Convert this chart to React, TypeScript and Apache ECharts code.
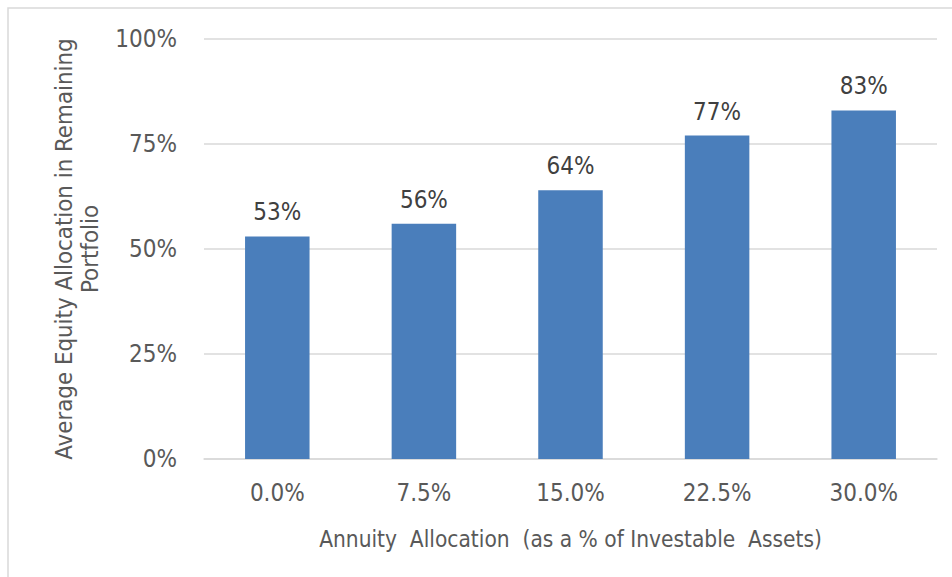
import React, { useEffect, useRef } from "react";
import * as echarts from "echarts";

const categories = ["0.0%", "7.5%", "15.0%", "22.5%", "30.0%"];
const values = [53, 56, 64, 77, 83];
const yTicks = [0, 25, 50, 75, 100];
const xTitle = "Annuity  Allocation  (as a % of Investable  Assets)";
const yTitle = "Average Equity Allocation in Remaining\nPortfolio";

const FONT = "'Liberation Sans Narrow', 'DejaVu Sans Condensed', Arial, sans-serif";
const TEXT = "#595959";

export default function App() {
  const ref = useRef<HTMLDivElement>(null);
  useEffect(() => {
    document.body.style.margin = "0";
    const chart = echarts.init(ref.current!, null, { renderer: "svg" });
    chart.setOption({
      animation: false,
      backgroundColor: "#ffffff",
      textStyle: { fontFamily: FONT },
      grid: { left: 204, right: 15, top: 39, bottom: 118, containLabel: false },
      graphic: [
        {
          type: "rect",
          shape: { x: 8, y: 8, width: 1000, height: 700 },
          style: { fill: "none", stroke: "#d9d9d9", lineWidth: 1.5 },
          silent: true,
        },
      ],
      xAxis: {
        type: "category",
        data: categories,
        name: xTitle,
        nameLocation: "middle",
        nameGap: 68,
        nameTextStyle: { fontFamily: FONT, fontSize: 22.5, color: TEXT },
        axisLine: { lineStyle: { color: "#d9d9d9", width: 1.5 } },
        axisTick: { show: false },
        axisLabel: { fontFamily: FONT, fontSize: 24, color: TEXT, margin: 22 },
      },
      yAxis: {
        type: "value",
        min: 0,
        max: 100,
        interval: 25,
        name: yTitle,
        nameLocation: "middle",
        nameGap: 101,
        nameRotate: 90,
        nameTextStyle: { fontFamily: FONT, fontSize: 23.8, color: TEXT, lineHeight: 26, align: "center" },
        axisLine: { show: false },
        axisTick: { show: false },
        splitLine: { lineStyle: { color: "#d9d9d9", width: 1.5 } },
        axisLabel: {
          fontFamily: FONT,
          fontSize: 24,
          color: TEXT,
          margin: 27,
          formatter: (v: number) => (yTicks.includes(v) ? v + "%" : ""),
        },
      },
      series: [
        {
          type: "bar",
          data: values,
          barWidth: "44%",
          itemStyle: { color: "#4a7ebb" },
          label: {
            show: true,
            position: "top",
            distance: 12,
            fontFamily: FONT,
            fontSize: 24,
            color: "#404040",
            formatter: (p: any) => p.value + "%",
          },
        },
      ],
    });
    return () => chart.dispose();
  }, []);
  return <div ref={ref} style={{ width: 952, height: 577 }} />;
}
